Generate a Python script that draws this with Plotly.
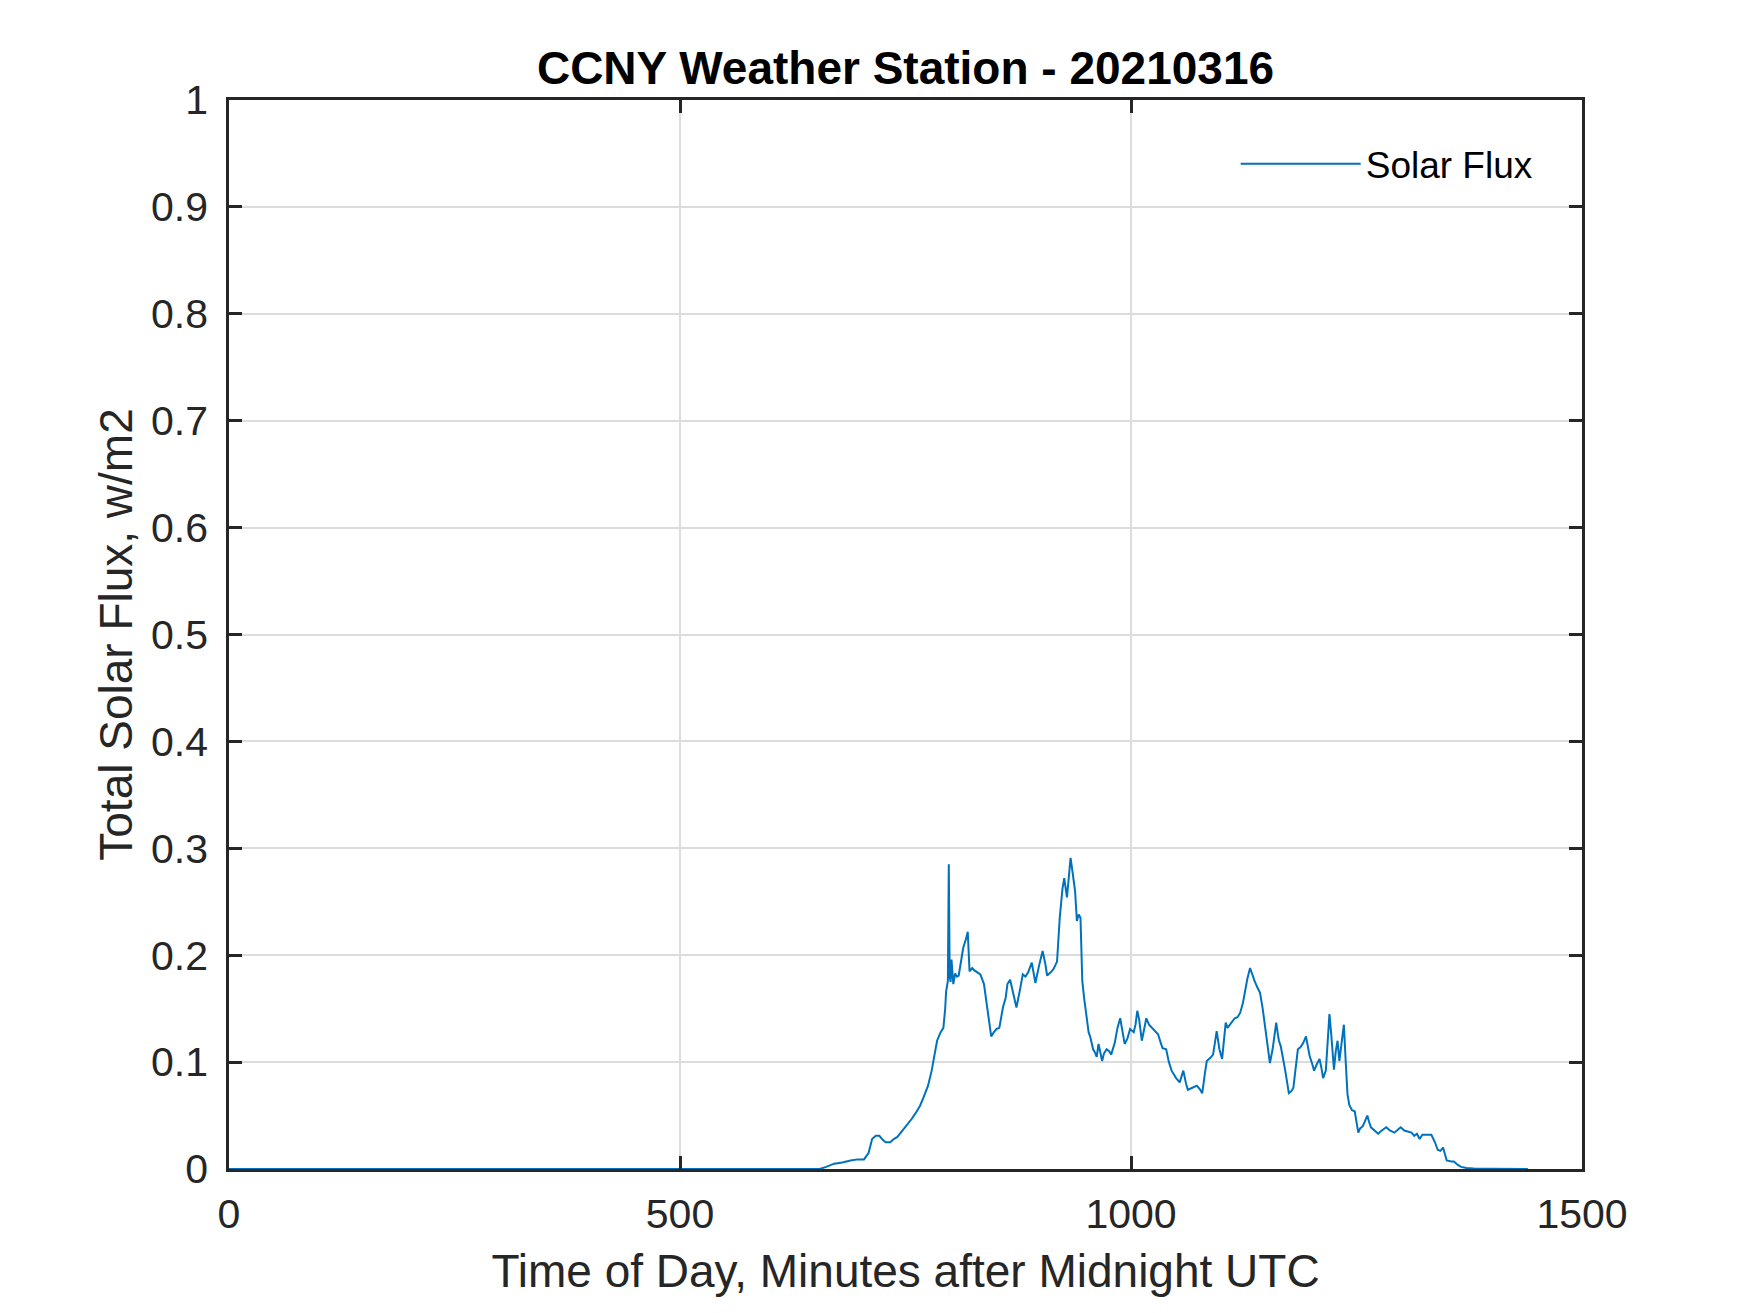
import plotly.graph_objects as go

# ----------------------------------------
# DATA
# ----------------------------------------
minutes = [
    0, 655, 662, 671, 680, 689, 697, 704, 709, 713, 717, 721, 725, 728, 733, 737,
    741, 746, 752, 757, 761, 766, 770, 775, 779, 782, 785, 789, 792, 794, 795, 797,
    798, 799, 800, 801, 803, 805, 807, 809, 812, 814, 817, 819, 821, 824, 826, 830,
    833, 837, 840, 843, 845, 848, 851, 854, 858, 861, 863, 866, 869, 873, 877, 880,
    883, 886, 890, 894, 898, 902, 905, 907, 911, 914, 918, 921, 924, 926, 929, 931,
    933, 935, 938, 940, 942, 944, 946, 948, 951, 953, 955, 958, 960, 962, 964, 966,
    968, 970, 973, 976, 978, 982, 985, 988, 990, 993, 996, 999, 1003, 1005, 1007, 1009,
    1012, 1015, 1017, 1020, 1024, 1027, 1030, 1033, 1035, 1039, 1042, 1045, 1050, 1054, 1058, 1061,
    1063, 1068, 1073, 1076, 1079, 1082, 1084, 1088, 1091, 1095, 1098, 1101, 1105, 1107, 1110, 1115,
    1118, 1121, 1124, 1126, 1129, 1132, 1135, 1137, 1140, 1143, 1146, 1148, 1151, 1154, 1157, 1159,
    1161, 1163, 1164, 1166, 1168, 1171, 1175, 1178, 1180, 1183, 1185, 1188, 1191, 1194, 1196, 1198,
    1201, 1203, 1206, 1209, 1211, 1213, 1216, 1218, 1220, 1222, 1225, 1227, 1229, 1231, 1234, 1236,
    1238, 1240, 1242, 1245, 1248, 1250, 1252, 1254, 1257, 1260, 1262, 1264, 1266, 1270, 1274, 1278,
    1283, 1287, 1292, 1296, 1299, 1303, 1307, 1311, 1314, 1317, 1320, 1323, 1328, 1333, 1337, 1340,
    1343, 1346, 1348, 1350, 1355, 1358, 1362, 1366, 1372, 1380, 1400, 1420, 1440,
]
solar_flux = [
    0, 0, 0.002, 0.005, 0.006, 0.008, 0.009, 0.009, 0.015, 0.028, 0.031, 0.031, 0.027, 0.025, 0.025, 0.028,
    0.030, 0.035, 0.042, 0.047, 0.052, 0.059, 0.067, 0.078, 0.092, 0.105, 0.120, 0.128, 0.132, 0.150, 0.166, 0.176,
    0.285, 0.180, 0.175, 0.196, 0.173, 0.183, 0.180, 0.181, 0.195, 0.207, 0.215, 0.222, 0.185, 0.188, 0.186, 0.184,
    0.182, 0.173, 0.155, 0.133, 0.124, 0.128, 0.131, 0.132, 0.151, 0.160, 0.173, 0.177, 0.165, 0.151, 0.168, 0.182,
    0.180, 0.184, 0.193, 0.174, 0.190, 0.204, 0.192, 0.181, 0.184, 0.187, 0.194, 0.235, 0.262, 0.272, 0.254, 0.275,
    0.291, 0.279, 0.260, 0.232, 0.238, 0.235, 0.176, 0.160, 0.141, 0.128, 0.123, 0.112, 0.109, 0.105, 0.117, 0.110,
    0.101, 0.108, 0.112, 0.110, 0.107, 0.118, 0.132, 0.141, 0.130, 0.117, 0.122, 0.131, 0.128, 0.135, 0.148, 0.140,
    0.120, 0.132, 0.141, 0.135, 0.131, 0.129, 0.126, 0.118, 0.113, 0.112, 0.100, 0.092, 0.085, 0.081, 0.092, 0.080,
    0.074, 0.076, 0.078, 0.075, 0.071, 0.090, 0.101, 0.104, 0.107, 0.129, 0.112, 0.103, 0.137, 0.132, 0.135, 0.141,
    0.142, 0.146, 0.155, 0.166, 0.178, 0.188, 0.180, 0.176, 0.170, 0.165, 0.150, 0.138, 0.118, 0.099, 0.112, 0.125,
    0.137, 0.125, 0.120, 0.115, 0.104, 0.092, 0.071, 0.073, 0.076, 0.095, 0.112, 0.114, 0.118, 0.124, 0.115, 0.106,
    0.098, 0.092, 0.098, 0.103, 0.095, 0.085, 0.092, 0.115, 0.145, 0.126, 0.093, 0.110, 0.120, 0.101, 0.120, 0.135,
    0.101, 0.070, 0.060, 0.055, 0.054, 0.045, 0.034, 0.038, 0.040, 0.046, 0.050, 0.044, 0.039, 0.036, 0.033, 0.036,
    0.039, 0.036, 0.034, 0.037, 0.039, 0.036, 0.035, 0.034, 0.031, 0.033, 0.028, 0.032, 0.032, 0.032, 0.025, 0.018,
    0.017, 0.020, 0.014, 0.008, 0.007, 0.007, 0.004, 0.002, 0.001, 0.0005, 0.0002, 0, 0,
]

x_ticks = [0, 500, 1000, 1500]
y_ticks = [0, 0.1, 0.2, 0.3, 0.4, 0.5, 0.6, 0.7, 0.8, 0.9, 1]
y_tick_labels = ["0", "0.1", "0.2", "0.3", "0.4", "0.5", "0.6", "0.7", "0.8", "0.9", "1"]

FONT = "Liberation Sans, Arial, Helvetica, sans-serif"
AXIS_COLOR = "#262626"
GRID_COLOR = "#dcdcdc"

fig = go.Figure()
fig.add_trace(go.Scatter(
    x=minutes,
    y=solar_flux,
    mode="lines",
    name="Solar Flux",
    line=dict(color="#0072BD", width=2),
))

axis_common = dict(
    showline=True,
    linecolor=AXIS_COLOR,
    linewidth=2.5,
    mirror="allticks",
    ticks="inside",
    ticklen=13,
    tickwidth=2.5,
    tickcolor=AXIS_COLOR,
    showgrid=True,
    gridcolor=GRID_COLOR,
    gridwidth=2,
    zeroline=False,
    tickfont=dict(family=FONT, size=41, color=AXIS_COLOR),
)

fig.update_xaxes(
    axis_common,
    range=[0, 1500],
    tickvals=x_ticks,
    ticktext=[str(v) for v in x_ticks],
    ticklabelstandoff=7,
    title=dict(
        text="Time of Day, Minutes after Midnight UTC",
        font=dict(family=FONT, size=46, color=AXIS_COLOR),
        standoff=19,
    ),
)
fig.update_yaxes(
    axis_common,
    range=[0, 1],
    tickvals=y_ticks,
    ticktext=y_tick_labels,
    ticklabelstandoff=10,
    title=dict(
        text="Total Solar Flux, w/m2",
        font=dict(family=FONT, size=46, color=AXIS_COLOR),
        standoff=4,
    ),
)

fig.update_layout(
    width=1750,
    height=1313,
    margin=dict(l=221, r=176, t=92, b=152, autoexpand=False),
    paper_bgcolor="white",
    plot_bgcolor="white",
    title=dict(
        text="<b>CCNY Weather Station - 20210316</b>",
        font=dict(family=FONT, size=46, color="black"),
        x=0.5,
        xanchor="center",
        y=1 - 60 / 1313,
        yanchor="middle",
        xref="paper",
        yref="container",
    ),
    showlegend=True,
    legend=dict(
        x=0.968,
        y=0.94,
        xanchor="right",
        yanchor="middle",
        bgcolor="rgba(255,255,255,0)",
        borderwidth=0,
        font=dict(family=FONT, size=37, color="black"),
        itemwidth=120,
    ),
)

fig.write_html("out.html")
